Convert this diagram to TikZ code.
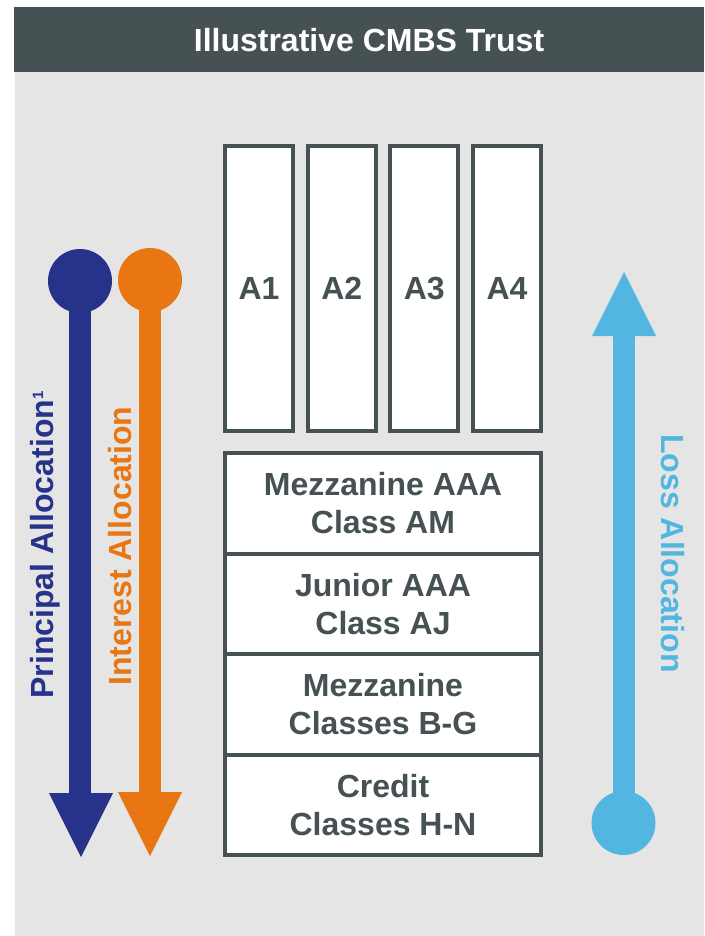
\documentclass[tikz,border=0pt]{standalone}
\usepackage{fontspec}
\setmainfont{Liberation Sans}
\definecolor{hdr}{HTML}{465153}
\definecolor{bgc}{HTML}{E5E5E5}
\definecolor{navy}{HTML}{27338B}
\definecolor{orng}{HTML}{E87612}
\definecolor{sky}{HTML}{53B6E0}
\begin{document}
\begin{tikzpicture}[x=1pt,y=-1pt,
  lbl/.style={font=\bfseries\fontsize{32}{38}\selectfont},
  colbox/.style={draw=hdr, line width=4pt, fill=white, minimum width=68pt, minimum height=285pt, inner sep=0pt, lbl, text=hdr},
  tierbox/.style={draw=hdr, line width=4pt, fill=white, minimum width=316pt, minimum height=100.5pt, inner sep=0pt, lbl, text=hdr, align=center},
  dot/.style={circle, minimum size=64pt, inner sep=0pt},
  shaft/.style={line width=22pt}
]
\useasboundingbox (0,0) rectangle (704,936);
\fill[bgc] (15,7) rectangle (704,936);
\fill[hdr] (14,7) rectangle (704,72);
\node[lbl, text=white] (title) at (369,40) {Illustrative CMBS Trust};

% A columns
\node[colbox] (a1) at (259,288.5) {A1};
\node[colbox] (a2) at (341.7,288.5) {A2};
\node[colbox] (a3) at (424.3,288.5) {A3};
\node[colbox] (a4) at (507,288.5) {A4};

% tiers
\node[tierbox] (am) at (383,503.25) {Mezzanine AAA\\Class AM};
\node[tierbox] (aj) at (383,603.75) {Junior AAA\\Class AJ};
\node[tierbox] (bg) at (383,704.25) {Mezzanine\\Classes B-G};
\node[tierbox] (hn) at (383,804.75) {Credit\\Classes H-N};

% principal arrow
\node[dot, fill=navy] (pc) at (80,281) {};
\coordinate (pb) at (80,794);
\coordinate (pt) at (81,857);
\draw[shaft, navy] (pc.center) -- (pb);
\fill[navy] (49,793) -- (113,793) -- (pt) -- cycle;

% interest arrow
\node[dot, fill=orng] (ic) at (150,280) {};
\coordinate (ib) at (150,793);
\coordinate (it) at (150,856);
\draw[shaft, orng] (ic.center) -- (ib);
\fill[orng] (118,792) -- (182,792) -- (it) -- cycle;

% loss arrow
\node[dot, fill=sky] (lc) at (623.5,823) {};
\coordinate (lb) at (623.5,335);
\coordinate (lt) at (624,272);
\draw[shaft, sky] (lc.center) -- (lb);
\fill[sky] (592,336) -- (656,336) -- (lt) -- cycle;

% labels
\node[lbl, text=navy, rotate=90, anchor=base] (pl) at (53,545) {Principal Allocation\raisebox{10pt}{\fontsize{15}{15}\selectfont 1}};
\node[lbl, text=orng, rotate=90, anchor=base] (il) at (131,546) {Interest Allocation};
\node[lbl, text=sky, rotate=-90, anchor=base] (ll) at (661,553.5) {Loss Allocation};
\end{tikzpicture}
\end{document}
